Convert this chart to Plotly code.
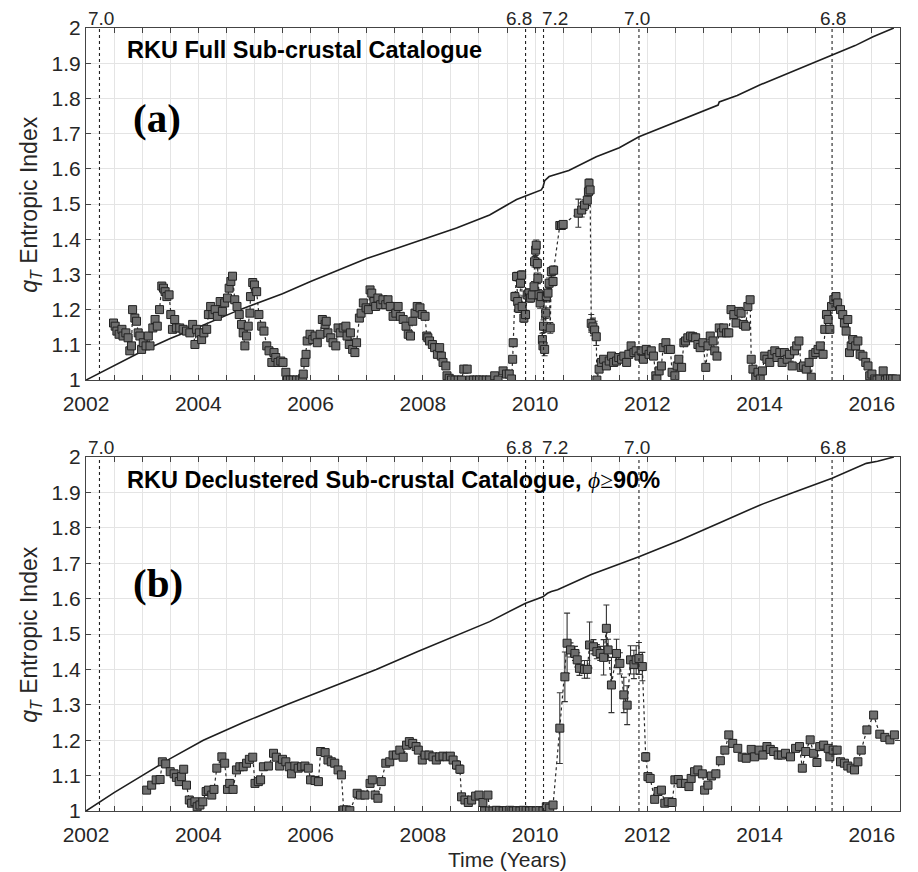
import plotly.graph_objects as go

# ---------------- data: panel (a) full catalogue ----------------
t_a = [
    2002.49, 2002.52, 2002.55, 2002.59, 2002.64, 2002.66, 2002.71, 2002.75, 2002.78, 2002.81,
    2002.83, 2002.87, 2002.90, 2002.93, 2002.96, 2002.99, 2003.02, 2003.07, 2003.11, 2003.14,
    2003.19, 2003.23, 2003.27, 2003.31, 2003.35, 2003.38, 2003.41, 2003.44, 2003.48, 2003.51,
    2003.54, 2003.58, 2003.61, 2003.67, 2003.73, 2003.79, 2003.85, 2003.90, 2003.94, 2003.97,
    2004.02, 2004.06, 2004.10, 2004.15, 2004.18, 2004.22, 2004.26, 2004.30, 2004.34, 2004.39,
    2004.43, 2004.47, 2004.52, 2004.55, 2004.58, 2004.61, 2004.65, 2004.69, 2004.73, 2004.77,
    2004.80, 2004.83, 2004.86, 2004.89, 2004.92, 2004.93, 2004.97, 2005.00, 2005.04, 2005.08,
    2005.13, 2005.17, 2005.22, 2005.26, 2005.31, 2005.35, 2005.38, 2005.42, 2005.47, 2005.51,
    2005.56, 2005.59, 2005.64, 2005.69, 2005.75, 2005.81, 2005.86, 2005.87, 2005.90, 2005.92,
    2005.94, 2005.99, 2006.04, 2006.08, 2006.12, 2006.17, 2006.21, 2006.26, 2006.28, 2006.31,
    2006.36, 2006.40, 2006.45, 2006.49, 2006.53, 2006.58, 2006.63, 2006.65, 2006.69, 2006.71,
    2006.75, 2006.79, 2006.82, 2006.87, 2006.90, 2006.94, 2006.99, 2007.03, 2007.06, 2007.09,
    2007.13, 2007.16, 2007.20, 2007.25, 2007.29, 2007.34, 2007.38, 2007.42, 2007.47, 2007.52,
    2007.56, 2007.60, 2007.65, 2007.70, 2007.74, 2007.78, 2007.82, 2007.86, 2007.90, 2007.95,
    2007.99, 2008.04, 2008.07, 2008.09, 2008.12, 2008.17, 2008.21, 2008.26, 2008.30, 2008.33,
    2008.36, 2008.41, 2008.43, 2008.47, 2008.51, 2008.57, 2008.63, 2008.69, 2008.73, 2008.79,
    2008.84, 2008.90, 2008.96, 2009.01, 2009.07, 2009.13, 2009.19, 2009.28, 2009.34, 2009.43,
    2009.49, 2009.54, 2009.58, 2009.60, 2009.61, 2009.64, 2009.67, 2009.69, 2009.71, 2009.74,
    2009.76, 2009.77, 2009.80, 2009.83, 2009.86, 2009.89, 2009.92, 2009.95, 2009.98, 2009.99,
    2010.01, 2010.02, 2010.04, 2010.05, 2010.07, 2010.09, 2010.11, 2010.13, 2010.14, 2010.15,
    2010.17, 2010.19, 2010.20, 2010.23, 2010.25, 2010.27, 2010.29, 2010.32, 2010.33, 2010.44,
    2010.47, 2010.50, 2010.77, 2010.83, 2010.88, 2010.93, 2010.95, 2010.96, 2010.98, 2011.00,
    2011.03, 2011.06, 2011.09, 2011.10, 2011.14, 2011.18, 2011.22, 2011.27, 2011.32, 2011.36,
    2011.40, 2011.45, 2011.49, 2011.54, 2011.58, 2011.63, 2011.67, 2011.71, 2011.76, 2011.80,
    2011.85, 2011.89, 2011.93, 2011.98, 2012.03, 2012.07, 2012.11, 2012.15, 2012.17, 2012.21,
    2012.25, 2012.28, 2012.33, 2012.37, 2012.41, 2012.44, 2012.49, 2012.53, 2012.56, 2012.61,
    2012.65, 2012.68, 2012.72, 2012.77, 2012.81, 2012.86, 2012.90, 2012.94, 2012.99, 2013.04,
    2013.08, 2013.12, 2013.17, 2013.20, 2013.24, 2013.28, 2013.32, 2013.36, 2013.41, 2013.45,
    2013.49, 2013.54, 2013.58, 2013.63, 2013.67, 2013.71, 2013.75, 2013.79, 2013.83, 2013.85,
    2013.88, 2013.93, 2013.97, 2014.01, 2014.05, 2014.09, 2014.13, 2014.18, 2014.22, 2014.27,
    2014.31, 2014.36, 2014.40, 2014.44, 2014.49, 2014.53, 2014.58, 2014.62, 2014.66, 2014.70,
    2014.74, 2014.78, 2014.83, 2014.88, 2014.92, 2014.95, 2015.00, 2015.04, 2015.08, 2015.13,
    2015.16, 2015.19, 2015.22, 2015.25, 2015.28, 2015.32, 2015.36, 2015.39, 2015.44, 2015.48,
    2015.51, 2015.54, 2015.57, 2015.60, 2015.63, 2015.66, 2015.71, 2015.75, 2015.79, 2015.84,
    2015.89, 2015.93, 2015.96, 2016.00, 2016.05, 2016.09, 2016.14, 2016.20, 2016.24, 2016.28,
    2016.33, 2016.37, 2016.43,
]
q_a = [
    1.162, 1.153, 1.139, 1.130, 1.144, 1.125, 1.134, 1.120, 1.083, 1.097,
    1.200, 1.176, 1.167, 1.134, 1.125, 1.087, 1.106, 1.097, 1.125, 1.097,
    1.148, 1.172, 1.153, 1.200, 1.267, 1.261, 1.251, 1.237, 1.242, 1.186,
    1.144, 1.172, 1.148, 1.148, 1.144, 1.139, 1.134, 1.158, 1.101, 1.144,
    1.134, 1.115, 1.134, 1.144, 1.186, 1.209, 1.186, 1.200, 1.181, 1.223,
    1.195, 1.219, 1.233, 1.261, 1.280, 1.295, 1.228, 1.209, 1.186, 1.158,
    1.134, 1.097, 1.125, 1.153, 1.190, 1.237, 1.277, 1.270, 1.251, 1.186,
    1.153, 1.139, 1.097, 1.083, 1.050, 1.078, 1.064, 1.050, 1.054, 1.050,
    1.022, 1.000, 1.000, 1.000, 1.000, 1.000, 1.005, 1.017, 1.050, 1.073,
    1.111, 1.130, 1.115, 1.125, 1.106, 1.130, 1.172, 1.158, 1.167, 1.134,
    1.120, 1.106, 1.097, 1.148, 1.134, 1.148, 1.153, 1.125, 1.101, 1.134,
    1.087, 1.078, 1.106, 1.176, 1.190, 1.219, 1.205, 1.200, 1.256, 1.247,
    1.223, 1.209, 1.233, 1.214, 1.228, 1.214, 1.228, 1.209, 1.181, 1.190,
    1.209, 1.181, 1.172, 1.153, 1.130, 1.125, 1.167, 1.190, 1.209, 1.205,
    1.186, 1.181, 1.125, 1.120, 1.111, 1.101, 1.092, 1.073, 1.092, 1.068,
    1.050, 1.040, 1.012, 1.005, 1.000, 1.000, 1.000, 1.000, 1.031, 1.031,
    1.000, 1.000, 1.000, 1.000, 1.000, 1.000, 1.000, 1.012, 1.000, 1.026,
    1.017, 1.017, 1.003, 1.059, 1.106, 1.237, 1.294, 1.223, 1.204, 1.275,
    1.298, 1.209, 1.176, 1.186, 1.242, 1.247, 1.233, 1.242, 1.265, 1.336,
    1.369, 1.383, 1.331, 1.289, 1.242, 1.219, 1.237, 1.115, 1.097, 1.153,
    1.087, 1.190, 1.237, 1.247, 1.275, 1.148, 1.308, 1.280, 1.312, 1.439,
    1.439, 1.442, 1.474, 1.483, 1.497, 1.511, 1.535, 1.559, 1.540, 1.161,
    1.151, 1.142, 1.123, 1.000, 1.031, 1.050, 1.059, 1.040, 1.054, 1.068,
    1.050, 1.054, 1.064, 1.059, 1.068, 1.050, 1.073, 1.097, 1.078, 1.083,
    1.068, 1.083, 1.059, 1.087, 1.073, 1.083, 1.068, 1.012, 1.003, 1.026,
    1.040, 1.092, 1.106, 1.087, 1.087, 1.022, 1.012, 1.040, 1.059, 1.036,
    1.106, 1.111, 1.120, 1.125, 1.123, 1.120, 1.101, 1.092, 1.106, 1.036,
    1.097, 1.125, 1.111, 1.083, 1.068, 1.148, 1.134, 1.148, 1.134, 1.134,
    1.200, 1.186, 1.162, 1.195, 1.190, 1.158, 1.153, 1.209, 1.228, 1.059,
    1.031, 1.008, 1.022, 1.003, 1.026, 1.068, 1.059, 1.050, 1.073, 1.083,
    1.064, 1.078, 1.050, 1.078, 1.059, 1.073, 1.040, 1.083, 1.097, 1.111,
    1.036, 1.040, 1.031, 1.050, 1.008, 1.073, 1.078, 1.087, 1.097, 1.073,
    1.144, 1.186, 1.172, 1.144, 1.209, 1.228, 1.237, 1.219, 1.200, 1.186,
    1.162, 1.139, 1.172, 1.078, 1.097, 1.115, 1.097, 1.111, 1.073, 1.068,
    1.050, 1.040, 1.012, 1.017, 1.003, 1.000, 1.003, 1.026, 1.000, 1.003,
    1.003, 1.003, 1.003,
]
e_a = [
    0.008, 0.008, 0.008, 0.008, 0.008, 0.008, 0.008, 0.008, 0.008, 0.008,
    0.008, 0.008, 0.008, 0.008, 0.008, 0.008, 0.008, 0.008, 0.008, 0.008,
    0.008, 0.008, 0.008, 0.008, 0.009, 0.009, 0.009, 0.009, 0.009, 0.008,
    0.008, 0.008, 0.008, 0.008, 0.008, 0.008, 0.008, 0.008, 0.008, 0.008,
    0.008, 0.008, 0.008, 0.008, 0.008, 0.008, 0.008, 0.008, 0.008, 0.008,
    0.008, 0.008, 0.008, 0.009, 0.009, 0.009, 0.009, 0.008, 0.008, 0.008,
    0.008, 0.008, 0.008, 0.008, 0.008, 0.010, 0.010, 0.010, 0.009, 0.008,
    0.008, 0.008, 0.008, 0.008, 0.008, 0.008, 0.008, 0.008, 0.008, 0.008,
    0.006, 0.004, 0.004, 0.004, 0.004, 0.004, 0.004, 0.005, 0.006, 0.008,
    0.008, 0.008, 0.008, 0.008, 0.008, 0.008, 0.009, 0.009, 0.009, 0.008,
    0.008, 0.008, 0.008, 0.008, 0.008, 0.008, 0.008, 0.008, 0.008, 0.008,
    0.008, 0.010, 0.008, 0.008, 0.008, 0.008, 0.008, 0.008, 0.008, 0.008,
    0.008, 0.008, 0.008, 0.008, 0.008, 0.008, 0.008, 0.012, 0.008, 0.008,
    0.008, 0.008, 0.010, 0.010, 0.008, 0.008, 0.008, 0.008, 0.008, 0.008,
    0.008, 0.008, 0.008, 0.008, 0.008, 0.008, 0.008, 0.008, 0.008, 0.008,
    0.006, 0.006, 0.005, 0.004, 0.004, 0.004, 0.004, 0.004, 0.006, 0.006,
    0.004, 0.004, 0.004, 0.004, 0.004, 0.004, 0.004, 0.005, 0.004, 0.005,
    0.005, 0.005, 0.004, 0.008, 0.010, 0.012, 0.012, 0.012, 0.012, 0.012,
    0.012, 0.012, 0.012, 0.012, 0.012, 0.012, 0.012, 0.012, 0.015, 0.015,
    0.015, 0.015, 0.015, 0.015, 0.015, 0.015, 0.015, 0.018, 0.018, 0.018,
    0.018, 0.015, 0.015, 0.015, 0.015, 0.015, 0.012, 0.012, 0.012, 0.008,
    0.008, 0.008, 0.040, 0.020, 0.015, 0.015, 0.015, 0.012, 0.012, 0.025,
    0.025, 0.025, 0.025, 0.004, 0.008, 0.008, 0.008, 0.008, 0.008, 0.008,
    0.008, 0.008, 0.008, 0.008, 0.008, 0.008, 0.008, 0.008, 0.008, 0.008,
    0.008, 0.008, 0.008, 0.008, 0.008, 0.008, 0.008, 0.008, 0.008, 0.008,
    0.008, 0.008, 0.008, 0.008, 0.008, 0.008, 0.008, 0.008, 0.008, 0.008,
    0.008, 0.008, 0.008, 0.008, 0.008, 0.008, 0.008, 0.008, 0.008, 0.008,
    0.008, 0.008, 0.008, 0.008, 0.008, 0.008, 0.008, 0.008, 0.008, 0.008,
    0.008, 0.008, 0.008, 0.008, 0.008, 0.008, 0.008, 0.008, 0.010, 0.008,
    0.008, 0.008, 0.008, 0.008, 0.008, 0.008, 0.008, 0.008, 0.008, 0.008,
    0.008, 0.008, 0.008, 0.008, 0.008, 0.008, 0.008, 0.008, 0.008, 0.008,
    0.008, 0.008, 0.008, 0.008, 0.008, 0.008, 0.008, 0.008, 0.008, 0.008,
    0.008, 0.008, 0.008, 0.008, 0.008, 0.010, 0.010, 0.010, 0.008, 0.008,
    0.008, 0.008, 0.008, 0.008, 0.008, 0.008, 0.008, 0.008, 0.008, 0.008,
    0.008, 0.008, 0.006, 0.006, 0.005, 0.004, 0.005, 0.006, 0.004, 0.004,
    0.004, 0.004, 0.004,
]

# cumulative (normalised) event count, panel (a)
cum_a_t = [2002.0, 2002.5, 2003.0, 2003.5, 2004.0, 2004.74, 2005.5, 2006.0, 2006.5, 2007.0,
           2007.5, 2008.0, 2008.6, 2009.19, 2009.67, 2009.9, 2010.11, 2010.14, 2010.17, 2010.25,
           2010.38, 2010.6, 2011.09, 2011.5, 2011.85, 2012.2, 2012.58, 2013.0, 2013.26, 2013.28,
           2013.6, 2014.0, 2014.6, 2015.29, 2015.7, 2016.02, 2016.2, 2016.39]
cum_a_v = [1.0, 1.042, 1.082, 1.118, 1.150, 1.200, 1.245, 1.280, 1.313, 1.345,
           1.372, 1.400, 1.432, 1.469, 1.513, 1.527, 1.540, 1.548, 1.566, 1.578,
           1.585, 1.595, 1.634, 1.660, 1.691, 1.713, 1.739, 1.764, 1.781, 1.790,
           1.808, 1.838, 1.878, 1.923, 1.950, 1.975, 1.988, 2.0]

# ---------------- data: panel (b) declustered catalogue ----------------
t_b = [
    2003.08, 2003.17, 2003.25, 2003.32, 2003.36, 2003.42, 2003.50, 2003.57, 2003.61, 2003.66,
    2003.70, 2003.74, 2003.79, 2003.84, 2003.88, 2003.94, 2003.98, 2004.03, 2004.08, 2004.14,
    2004.18, 2004.24, 2004.28, 2004.33, 2004.42, 2004.47, 2004.52, 2004.56, 2004.62, 2004.68,
    2004.74, 2004.80, 2004.86, 2004.91, 2004.97, 2005.01, 2005.07, 2005.11, 2005.16, 2005.25,
    2005.34, 2005.39, 2005.45, 2005.50, 2005.56, 2005.62, 2005.66, 2005.72, 2005.78, 2005.84,
    2005.90, 2005.96, 2006.00, 2006.08, 2006.14, 2006.18, 2006.26, 2006.31, 2006.37, 2006.43,
    2006.49, 2006.55, 2006.59, 2006.64, 2006.70, 2006.83, 2006.89, 2006.97, 2007.06, 2007.10,
    2007.15, 2007.20, 2007.26, 2007.34, 2007.41, 2007.47, 2007.53, 2007.59, 2007.65, 2007.71,
    2007.76, 2007.82, 2007.88, 2007.92, 2007.99, 2008.04, 2008.11, 2008.18, 2008.24, 2008.30,
    2008.36, 2008.43, 2008.49, 2008.54, 2008.60, 2008.66, 2008.69, 2008.75, 2008.81, 2008.87,
    2008.94, 2009.00, 2009.07, 2009.10, 2009.16, 2009.19, 2009.25, 2009.31, 2009.37, 2009.43,
    2009.49, 2009.55, 2009.61, 2009.67, 2009.73, 2009.79, 2009.84, 2009.90, 2009.96, 2010.02,
    2010.08, 2010.14, 2010.20, 2010.26, 2010.32, 2010.44, 2010.53, 2010.57, 2010.63, 2010.71,
    2010.75, 2010.79, 2010.88, 2010.93, 2010.97, 2011.04, 2011.10, 2011.16, 2011.22, 2011.27,
    2011.30, 2011.36, 2011.45, 2011.51, 2011.58, 2011.64, 2011.70, 2011.76, 2011.80, 2011.85,
    2011.91, 2011.97, 2012.01, 2012.05, 2012.13, 2012.19, 2012.25, 2012.31, 2012.37, 2012.44,
    2012.49, 2012.55, 2012.60, 2012.68, 2012.74, 2012.78, 2012.84, 2012.90, 2012.98, 2013.02,
    2013.08, 2013.14, 2013.22, 2013.30, 2013.38, 2013.45, 2013.52, 2013.61, 2013.69, 2013.76,
    2013.85, 2013.91, 2013.99, 2014.06, 2014.13, 2014.19, 2014.25, 2014.33, 2014.39, 2014.46,
    2014.55, 2014.64, 2014.71, 2014.76, 2014.82, 2014.90, 2014.96, 2015.02, 2015.07, 2015.14,
    2015.22, 2015.25, 2015.31, 2015.38, 2015.44, 2015.51, 2015.57, 2015.63, 2015.69, 2015.75,
    2015.81, 2015.91, 2016.03, 2016.14, 2016.23, 2016.32, 2016.40,
]
q_b = [
    1.059, 1.073, 1.088, 1.089, 1.139, 1.133, 1.111, 1.105, 1.095, 1.083,
    1.097, 1.118, 1.073, 1.031, 1.022, 1.026, 1.012, 1.017, 1.026, 1.055,
    1.059, 1.045, 1.061, 1.121, 1.153, 1.135, 1.061, 1.078, 1.061, 1.116,
    1.125, 1.125, 1.135, 1.146, 1.152, 1.078, 1.083, 1.088, 1.125, 1.127,
    1.163, 1.152, 1.127, 1.146, 1.139, 1.125, 1.105, 1.127, 1.121, 1.125,
    1.127, 1.121, 1.088, 1.086, 1.083, 1.168, 1.165, 1.144, 1.139, 1.135,
    1.116, 1.102, 1.003, 1.003, 1.001, 1.050, 1.045, 1.045, 1.078, 1.088,
    1.045, 1.036, 1.083, 1.135, 1.139, 1.158, 1.158, 1.172, 1.152, 1.186,
    1.196, 1.191, 1.182, 1.172, 1.144, 1.158, 1.158, 1.153, 1.144, 1.153,
    1.155, 1.153, 1.155, 1.144, 1.130, 1.118, 1.040, 1.031, 1.024, 1.031,
    1.042, 1.045, 1.024, 1.000, 1.045, 1.000, 1.000, 1.002, 1.001, 1.000,
    1.001, 1.002, 1.000, 1.001, 1.000, 1.002, 1.001, 1.000, 1.001, 1.000,
    1.001, 1.000, 1.012, 1.008, 1.017, 1.234, 1.379, 1.474, 1.455, 1.445,
    1.427, 1.403, 1.400, 1.400, 1.469, 1.464, 1.450, 1.445, 1.434, 1.516,
    1.455, 1.356, 1.445, 1.417, 1.328, 1.299, 1.427, 1.414, 1.427, 1.431,
    1.408, 1.153, 1.097, 1.092, 1.033, 1.055, 1.059, 1.022, 1.026, 1.024,
    1.088, 1.089, 1.078, 1.078, 1.069, 1.092, 1.111, 1.116, 1.105, 1.059,
    1.073, 1.099, 1.105, 1.142, 1.172, 1.215, 1.191, 1.177, 1.152, 1.149,
    1.174, 1.153, 1.172, 1.158, 1.182, 1.174, 1.168, 1.158, 1.158, 1.163,
    1.153, 1.177, 1.182, 1.121, 1.168, 1.201, 1.163, 1.137, 1.182, 1.186,
    1.177, 1.153, 1.172, 1.172, 1.139, 1.135, 1.127, 1.121, 1.116, 1.139,
    1.172, 1.229, 1.271, 1.217, 1.208, 1.201, 1.215,
]
e_b = [
    0.006, 0.006, 0.006, 0.006, 0.007, 0.007, 0.006, 0.006, 0.006, 0.006,
    0.006, 0.008, 0.006, 0.006, 0.006, 0.006, 0.006, 0.006, 0.006, 0.006,
    0.006, 0.006, 0.006, 0.007, 0.007, 0.007, 0.006, 0.006, 0.006, 0.006,
    0.006, 0.006, 0.006, 0.006, 0.006, 0.006, 0.006, 0.006, 0.006, 0.006,
    0.006, 0.006, 0.006, 0.006, 0.006, 0.006, 0.006, 0.006, 0.006, 0.006,
    0.006, 0.006, 0.006, 0.006, 0.006, 0.006, 0.006, 0.006, 0.006, 0.006,
    0.008, 0.008, 0.004, 0.004, 0.004, 0.006, 0.006, 0.006, 0.006, 0.006,
    0.006, 0.006, 0.006, 0.006, 0.006, 0.006, 0.006, 0.006, 0.006, 0.006,
    0.006, 0.006, 0.006, 0.006, 0.006, 0.006, 0.006, 0.006, 0.006, 0.008,
    0.008, 0.008, 0.008, 0.010, 0.012, 0.012, 0.006, 0.006, 0.006, 0.006,
    0.006, 0.006, 0.006, 0.004, 0.006, 0.004, 0.004, 0.004, 0.004, 0.004,
    0.004, 0.004, 0.004, 0.004, 0.004, 0.004, 0.004, 0.004, 0.004, 0.004,
    0.004, 0.004, 0.006, 0.006, 0.008, 0.100, 0.070, 0.085, 0.020, 0.020,
    0.020, 0.020, 0.025, 0.025, 0.065, 0.020, 0.020, 0.020, 0.050, 0.066,
    0.030, 0.078, 0.040, 0.030, 0.050, 0.055, 0.040, 0.040, 0.040, 0.045,
    0.040, 0.012, 0.010, 0.008, 0.006, 0.006, 0.006, 0.006, 0.006, 0.006,
    0.006, 0.006, 0.006, 0.006, 0.006, 0.006, 0.008, 0.008, 0.008, 0.006,
    0.006, 0.006, 0.006, 0.006, 0.006, 0.006, 0.006, 0.006, 0.006, 0.006,
    0.006, 0.006, 0.006, 0.006, 0.006, 0.006, 0.006, 0.006, 0.006, 0.006,
    0.006, 0.006, 0.006, 0.010, 0.006, 0.006, 0.006, 0.006, 0.006, 0.006,
    0.006, 0.006, 0.006, 0.006, 0.006, 0.006, 0.006, 0.006, 0.006, 0.006,
    0.006, 0.006, 0.006, 0.006, 0.006, 0.006, 0.006,
]

cum_b_t = [2002.0, 2002.5, 2003.0, 2003.5, 2004.09, 2004.8, 2005.57, 2006.3, 2007.17, 2007.9,
           2008.66, 2009.19, 2009.83, 2010.14, 2010.22, 2010.29, 2010.4, 2011.0, 2011.85, 2012.58,
           2013.3, 2014.0, 2014.6, 2015.29, 2015.9, 2016.1, 2016.39]
cum_b_v = [1.0, 1.052, 1.100, 1.148, 1.200, 1.250, 1.300, 1.345, 1.400, 1.450,
           1.500, 1.535, 1.587, 1.605, 1.615, 1.620, 1.625, 1.668, 1.718, 1.765,
           1.815, 1.864, 1.900, 1.940, 1.982, 1.988, 2.0]

# large earthquakes (time, magnitude label)
quake_t = [2002.24, 2009.83, 2010.15, 2011.85, 2015.29]
quake_mag = ["7.0", "6.8", "7.2", "7.0", "6.8"]
quake_shift = [2, -7, 11, -2, 1]

# axis ticks
x_label_years = [2002, 2004, 2006, 2008, 2010, 2012, 2014, 2016]
x_label_text = ["2002", "2004", "2006", "2008", "2010", "2012", "2014", "2016"]
y_tick_vals = [1.0, 1.1, 1.2, 1.3, 1.4, 1.5, 1.6, 1.7, 1.8, 1.9, 2.0]
y_tick_text = ["1", "1.1", "1.2", "1.3", "1.4", "1.5", "1.6", "1.7", "1.8", "1.9", "2"]

# ---------------- figure ----------------
FONT = "Liberation Sans, Arial, sans-serif"
SERIF = "Liberation Serif, Times New Roman, serif"
TXT = "#262626"
GRID = "#e4e4e4"
AX = "#444444"

fig = go.Figure()

panels = [
    ("x", "y", t_a, q_a, e_a, cum_a_t, cum_a_v),
    ("x2", "y2", t_b, q_b, e_b, cum_b_t, cum_b_v),
]
for xa, ya, t, q, e, ct, cv in panels:
    fig.add_trace(go.Scatter(
        x=ct, y=cv, xaxis=xa, yaxis=ya, mode="lines",
        line=dict(color="#1e1e1e", width=1.6), hoverinfo="skip", showlegend=False))
    fig.add_trace(go.Scatter(
        x=t, y=q, xaxis=xa, yaxis=ya, mode="lines+markers",
        line=dict(color="#2a2a2a", width=1.2, dash="dot"),
        marker=dict(symbol="square", size=8, color="#6e6e6e",
                    line=dict(color="#222222", width=1)),
        error_y=dict(type="data", array=e, visible=True, color="#333333",
                     thickness=1.1, width=3),
        showlegend=False))

shapes = []
annotations = []
for xa, yd in [("x", "y domain"), ("x2", "y2 domain")]:
    for qt, qm, qs in zip(quake_t, quake_mag, quake_shift):
        shapes.append(dict(type="line", xref=xa, yref=yd, x0=qt, x1=qt, y0=0, y1=1,
                           line=dict(color="#222222", width=1.1, dash="dot"), layer="above"))
        annotations.append(dict(x=qt, y=1, xref=xa, yref=yd, text=qm, showarrow=False,
                                xanchor="center", yanchor="bottom", xshift=qs, yshift=-3,
                                font=dict(family=FONT, size=19, color=TXT)))

# panel titles
annotations.append(dict(x=2002.69, y=1.9375, xref="x", yref="y", showarrow=False,
                        xanchor="left", yanchor="middle",
                        text="<b>RKU Full Sub-crustal Catalogue</b>",
                        font=dict(family=FONT, size=23.5, color="#000000")))
annotations.append(dict(x=2002.69, y=1.935, xref="x2", yref="y2", showarrow=False,
                        xanchor="left", yanchor="middle",
                        text="<b>RKU Declustered Sub-crustal Catalogue, </b>"
                             "<span style=\"font-family:'Liberation Serif'\"><i>ϕ</i>≥</span><b>90%</b>",
                        font=dict(family=FONT, size=23.5, color="#000000")))
annotations.append(dict(x=2002.80, y=1.744, xref="x", yref="y", showarrow=False,
                        xanchor="left", yanchor="middle", text="<b>(a)</b>",
                        font=dict(family=SERIF, size=41, color="#000000")))
annotations.append(dict(x=2002.80, y=1.644, xref="x2", yref="y2", showarrow=False,
                        xanchor="left", yanchor="middle", text="<b>(b)</b>",
                        font=dict(family=SERIF, size=41, color="#000000")))

# axis titles
for yd in ["y domain", "y2 domain"]:
    annotations.append(dict(x=-0.069, y=0.5, xref="paper", yref=yd, showarrow=False,
                            textangle=-90, xanchor="center", yanchor="middle",
                            text="<i>q</i><sub><i>T</i></sub> Entropic Index",
                            font=dict(family=FONT, size=23, color=TXT)))
annotations.append(dict(x=0.518, y=-0.0615, xref="paper", yref="paper", showarrow=False,
                        xanchor="center", yanchor="middle", text="Time (Years)",
                        font=dict(family=FONT, size=21, color=TXT)))

xaxis_common = dict(range=[2002, 2016.5], tickmode="array", tickvals=x_label_years,
                    ticktext=x_label_text, showgrid=True, gridcolor=GRID, gridwidth=1,
                    ticks="inside", ticklen=5, tickcolor=AX, showline=True,
                    linecolor=AX, linewidth=1, mirror="ticks", zeroline=False,
                    ticklabelstandoff=5,
                    minor=dict(tick0=2002, dtick=0.5, showgrid=True, gridcolor=GRID, gridwidth=1,
                               ticks="inside", ticklen=5, tickcolor=AX),
                    tickfont=dict(family=FONT, size=21, color=TXT))
yaxis_common = dict(range=[1, 2], tickmode="array", tickvals=y_tick_vals, ticktext=y_tick_text,
                    showgrid=True, gridcolor=GRID, gridwidth=1, ticks="inside", ticklen=5,
                    tickcolor=AX, showline=True, linecolor=AX, linewidth=1,
                    mirror="ticks", zeroline=False,
                    tickfont=dict(family=FONT, size=21, color=TXT))

fig.update_layout(
    width=918, height=872,
    margin=dict(l=86, r=18, t=28, b=61),
    paper_bgcolor="white", plot_bgcolor="white",
    xaxis=dict(domain=[0, 1], anchor="y", **xaxis_common),
    yaxis=dict(domain=[0.5504, 1.0], anchor="x", **yaxis_common),
    xaxis2=dict(domain=[0, 1], anchor="y2", **xaxis_common),
    yaxis2=dict(domain=[0.0, 0.4521], anchor="x2", **yaxis_common),
    shapes=shapes, annotations=annotations, showlegend=False,
)

fig.write_html("out.html", config={"displayModeBar": False},
               post_script="document.body.style.margin='0px';document.body.style.overflow='hidden';")
